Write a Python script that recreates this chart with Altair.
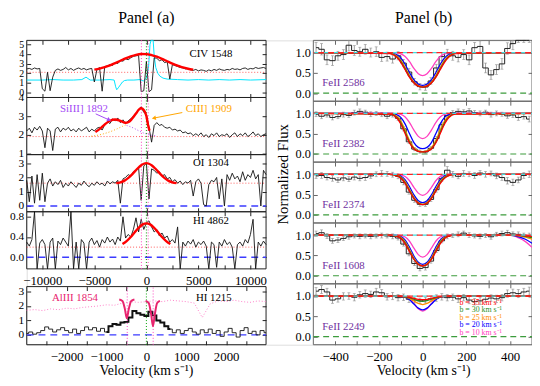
import altair as alt
import pandas as pd

FONT = "Liberation Serif"

# ======================= Panel (a) : broad emission lines =======================
VEL_A = list(range(-11500, 11501, 250))   # 93 velocity samples (km/s)

CIV_FLUX = [
    2.45, 2.50, 2.40, 2.55,   # -11500
    2.45, 2.50, 0.40, 0.15,   # -10500
    2.10, 0.20, 1.60, 2.30,   # -9500
    2.45, 2.30, 2.40, 2.60,   # -8500
    2.35, 2.50, 2.30, 2.45,   # -7500
    2.55, 2.40, 2.50, 2.35,   # -6500
    2.45, 2.50, 1.10, 2.40,   # -5500
    2.60, 0.15, 2.70, 2.75,   # -4500
    2.90, 2.80, 3.10, 3.00,   # -3500
    3.30, 3.25, 3.50, 3.40,   # -2500
    3.60, 3.75, 3.80, 3.85,   # -1500
    0.10, 0.20, 3.20, 0.10,   # -500
    0.30, 3.60, 3.55, 3.30,   # 500
    3.40, 3.10, 3.20, 1.40,   # 1500
    2.90, 2.80, 2.70, 2.60,   # 2500
    2.55, 2.45, 2.50, 2.35,   # 3500
    2.30, 2.40, 2.25, 2.35,   # 4500
    2.30, 2.20, 2.35, 2.25,   # 5500
    2.40, 2.30, 2.45, 2.35,   # 6500
    2.30, 2.40, 2.35, 2.50,   # 7500
    2.40, 2.45, 2.35, 2.50,   # 8500
    2.55, 2.40, 2.50, 2.45,   # 9500
    2.60, 2.50, 2.55, 2.60,   # 10500
    2.50,                     # 11500
]
CIV_CYAN_V = [-11500, -10000, -9000, -8000, -7000, -6200, -5800, -5400, -4500, -3500,
              -3100, -2950, -2850, -2700, -2500, -2300, -2100, -1800, -1200, -600,
              -300, 0, 200, 350, 450, 550, 650, 750, 900, 1100,
              1300, 1600, 2000, 3000, 4000, 5000, 6000, 7000, 8000, 9000,
              10000, 11500]
CIV_CYAN_F = [1.30, 1.30, 1.35, 1.30, 1.30, 1.35, 1.60, 1.30, 1.30, 1.35,
              1.30, 0.60, 0.30, 0.50, 0.80, 1.10, 1.25, 1.30, 1.30, 1.35,
              1.20, 1.50, 2.50, 5.00, 6.50, 6.50, 5.50, 3.80, 2.60, 2.00,
              1.70, 1.50, 1.40, 1.35, 1.30, 1.35, 1.30, 1.35, 1.30, 1.35,
              1.30, 1.35]
CIV_FIT_V = [-5000, -4500, -4000, -3500, -3000, -2500, -2000, -1500, -1000, -500,
             0, 500, 1000, 1500, 2000, 2500, 3000, 3500, 4000, 4500]
CIV_FIT_F = [2.38, 2.49, 2.64, 2.82, 3.05, 3.29, 3.54, 3.75, 3.91, 3.99,
             3.98, 3.88, 3.71, 3.49, 3.24, 3.00, 2.79, 2.60, 2.47, 2.37]
CIV_CONT = 2.1

SI_FLUX = [
    2.20, 2.35, 2.10, 2.40,   # -11500
    2.25, 2.45, 2.20, 1.30,   # -10500
    2.35, 2.20, 1.15, 2.30,   # -9500
    2.40, 2.15, 2.35, 2.25,   # -8500
    2.40, 2.20, 2.30, 2.15,   # -7500
    2.35, 2.20, 2.30, 2.40,   # -6500
    2.15, 2.30, 2.20, 2.35,   # -5500
    2.40, 2.25, 2.55, 2.70,   # -4500
    2.60, 2.85, 2.75, 2.90,   # -3500
    2.65, 2.80, 2.60, 2.75,   # -2500
    2.85, 3.00, 3.10, 3.35,   # -1500
    3.50, 3.20, 3.10, 2.40,   # -500
    1.60, 2.50, 2.65, 2.50,   # 500
    2.55, 2.40, 2.35, 2.40,   # 1500
    2.25, 2.30, 2.20, 2.25,   # 2500
    2.10, 2.15, 2.05, 2.10,   # 3500
    1.95, 2.05, 1.95, 2.10,   # 4500
    1.90, 2.00, 1.85, 2.05,   # 5500
    1.95, 2.10, 1.90, 2.00,   # 6500
    1.95, 2.05, 1.85, 2.00,   # 7500
    2.10, 1.90, 2.05, 1.95,   # 8500
    2.10, 1.90, 2.00, 2.15,   # 9500
    1.95, 2.05, 1.90, 2.00,   # 10500
    2.05,                     # 11500
]
SI_FIT_V = [-4900, -4500, -4000, -3500, -3000, -2500, -2000, -1700, -1400, -1000,
            -700, -500, -250, 0, 150, 300]
SI_FIT_F = [2.15, 2.30, 2.55, 2.75, 2.82, 2.74, 2.64, 2.68, 2.84, 3.14,
            3.36, 3.42, 3.33, 3.00, 2.55, 2.22]
ORANGE_DOT_V = [-5300, -4800, -4300, -3800, -3300, -2800, -2300, -1900]
ORANGE_DOT_F = [1.92, 1.96, 2.02, 2.10, 2.20, 2.32, 2.45, 2.55]
PURPLE_DOT_V = [-1900, -1500, -1100, -700, -300, 100, 500, 900]
PURPLE_DOT_F = [2.50, 2.42, 2.32, 2.20, 2.10, 2.02, 1.97, 1.94]
SI_CONT = 1.9

OI_FLUX = [
    1.80, 0.30, 2.10, 0.20,   # -11500
    2.20, 0.40, 2.30, 0.30,   # -10500
    1.60, 1.90, 1.40, 1.70,   # -9500
    1.50, 1.80, 1.30, 1.60,   # -8500
    1.40, 1.70, 1.50, 1.30,   # -7500
    1.60, 1.45, 1.75, 1.50,   # -6500
    1.35, 1.60, 1.45, 1.70,   # -5500
    1.50, 1.60, 1.40, 1.75,   # -4500
    1.55, 1.70, 1.60, 1.80,   # -3500
    0.20, 1.90, 2.00, 2.20,   # -2500
    2.10, 2.40, 2.50, 2.70,   # -1500
    0.40, 2.80, 3.00, 0.50,   # -500
    2.60, 2.50, 2.30, 2.40,   # 500
    2.10, 2.20, 1.90, 2.00,   # 1500
    1.70, 1.85, 1.60, 1.75,   # 2500
    1.50, 1.70, 1.60, 1.80,   # 3500
    0.70, 1.70, 1.90, 1.60,   # 4500
    0.10, 0.00, 1.50, 1.80,   # 5500
    1.70, 2.00, 0.50, 1.90,   # 6500
    0.00, 2.20, 1.80, 2.30,   # 7500
    1.90, 2.10, 1.70, 2.40,   # 8500
    1.80, 2.20, 2.00, 2.50,   # 9500
    1.90, 2.20, 0.00, 2.50,   # 10500
    2.20,                     # 11500
]
OI_FIT_V = [-2900, -2500, -2100, -1700, -1300, -900, -500, -250, 0,
            250, 500, 900, 1300, 1700, 2100, 2500, 2900]
OI_FIT_F = [1.60, 1.66, 1.78, 1.99, 2.27, 2.59, 2.86, 2.96, 3.00,
            2.96, 2.86, 2.59, 2.27, 1.99, 1.78, 1.66, 1.60]
OI_CONT = 1.6

HI_FLUX = [
    0.30, 0.22, 0.35, 0.95,   # -11500
    -0.30, 0.28, 0.35, 0.25,  # -10500
    -0.30, 0.30, 0.38, -0.30, # -9500
    0.32, 0.25, 0.38, 0.30,   # -8500
    0.22, 0.90, -0.30, 0.30,  # -7500
    -0.25, 0.35, 0.28, -0.30, # -6500
    0.30, 0.38, 0.25, 0.33,   # -5500
    0.20, 0.35, 0.28, 0.40,   # -4500
    0.30, 0.36, 0.25, 0.40,   # -3500
    0.32, 0.80, 0.38, 0.45,   # -2500
    0.40, 0.55, 0.78, 0.50,   # -1500
    0.75, 0.55, 0.68, 0.72,   # -500
    0.60, 0.50, 0.55, 0.42,   # 500
    0.48, 0.38, 0.42, 0.30,   # 1500
    0.35, 0.28, 0.60, -0.30,  # 2500
    0.30, 0.22, 0.32, 0.26,   # 3500
    0.35, 0.20, 0.30, 0.25,   # 4500
    0.32, 0.22, -0.30, 0.30,  # 5500
    0.25, -0.20, 0.30, 0.22,  # 6500
    0.35, 0.25, 0.30, 0.20,   # 7500
    -0.30, 0.25, 0.30, 0.22,  # 8500
    0.35, 0.28, 0.45, 0.75,   # 9500
    -0.30, 0.30, 0.22, 0.32,  # 10500
    0.25,                     # 11500
]
HI_FIT_V = [-2300, -1900, -1500, -1100, -700, -350, 0, 350, 700, 1100, 1500, 1900, 2300]
HI_FIT_F = [0.26, 0.32, 0.40, 0.50, 0.59, 0.65, 0.67, 0.65, 0.59, 0.50, 0.40, 0.32, 0.26]
HI_CONT = 0.2

# bottom panel: HI 1215 with AlIII 1854 overlay
VEL_LYA = list(range(-3000, 3001, 100))   # 61 samples
LYA_FLUX = [
    0.10, 0.20, 0.05, 0.15, 0.30, 0.55, 0.40, 0.20, 0.35, 0.50,    # -3000
    0.30, 0.15, 0.40, 0.10, 0.30, 0.55, 0.35, 0.50, 0.25, 0.45,    # -2000
    0.20, 0.60, 0.75, 0.70, 0.85, 0.90, 1.20, 1.65, 1.50, 1.40,    # -1000
    1.30, 1.60, 1.35, 1.00, 0.85, 0.60, 0.40, 0.15, 0.35, 0.10,    # 0
    0.30, 0.45, 0.20, 0.05, 0.35, 0.15, 0.40, 0.10, 0.30, -0.10,   # 1000
    0.20, 0.45, 0.15, -0.15, 0.30, 0.50, 0.10, 0.25, 0.00, 0.30,   # 2000
    0.15,                                                          # 3000
]
VEL_AL = list(range(-3000, 3001, 200))    # 31 samples
AL_FLUX = [1.70, 1.75, 1.68, 1.80, 1.74, 1.85, 1.80, 1.90, 1.95, 2.00,
           2.08, 2.05, 2.20, 2.30, 2.25, 2.30, 2.35, 2.30, 2.40, 2.35,
           2.30, 2.20, 1.20, 2.15, 2.35, 2.30, 2.40, 2.30, 2.25, 2.35, 2.30]
AL_V1_V = [-680, -600, -540, -490, -440, -380, -300]
AL_V1_F = [2.45, 2.35, 1.80, 1.15, 1.80, 2.35, 2.45]
AL_V2_V = [-20, 60, 120, 165, 210, 270, 340]
AL_V2_F = [2.35, 2.20, 1.40, 0.60, 1.40, 2.20, 2.35]

VLINES_MAGENTA = [-480, 170]
VLINE_GREEN = 0

# ======================= Panel (b) : FeII absorption =======================
VEL_B = [-487.5 + 25 * i for i in range(40)]
B_NAMES = ["FeII 2586", "FeII 2382", "FeII 2374", "FeII 1608", "FeII 2249"]
B_FLUX = [
    [1.12, 1.08, 0.82, 0.80, 0.92, 0.95, 1.18, 1.05, 1.02, 1.08,
     1.00, 1.02, 0.88, 0.90, 0.84, 0.92, 0.74, 0.52, 0.28, 0.16,
     0.15, 0.30, 0.62, 0.90, 0.98, 0.92, 0.88, 0.95, 0.82, 1.12,
     1.15, 0.62, 0.45, 0.58, 0.72, 1.10, 1.22, 1.40, 1.40, 1.40],
    [0.98, 0.93, 0.96, 0.90, 0.92, 0.97, 0.95, 1.02, 1.05, 1.03,
     0.98, 1.00, 0.97, 0.93, 0.96, 0.88, 0.62, 0.30, 0.12, 0.06,
     0.05, 0.14, 0.38, 0.72, 0.95, 1.02, 1.05, 1.04, 1.06, 1.02,
     1.00, 1.03, 0.97, 1.00, 0.98, 0.94, 0.96, 0.90, 0.92, 0.86],
    [0.96, 0.97, 0.92, 0.90, 0.86, 0.91, 0.88, 0.93, 0.90, 0.92,
     0.96, 1.00, 1.02, 1.01, 0.99, 0.95, 0.80, 0.56, 0.36, 0.26,
     0.26, 0.38, 0.62, 0.90, 1.10, 1.00, 0.95, 1.02, 1.00, 0.97,
     1.03, 1.00, 1.02, 0.96, 0.92, 0.84, 0.80, 0.86, 0.97, 1.00],
    [1.04, 1.06, 0.98, 0.86, 0.88, 0.92, 0.96, 0.98, 0.97, 0.98,
     0.97, 0.98, 0.99, 0.98, 0.97, 0.93, 0.78, 0.54, 0.30, 0.18,
     0.20, 0.36, 0.62, 0.86, 0.97, 0.99, 1.02, 1.05, 1.00, 0.98,
     0.97, 0.99, 0.96, 1.02, 1.04, 1.06, 1.03, 1.02, 1.00, 0.99],
    [1.12, 1.16, 1.10, 0.90, 0.93, 0.99, 1.00, 0.97, 1.03, 1.06,
     1.04, 1.10, 1.08, 0.98, 1.00, 0.96, 0.97, 0.92, 0.90, 0.88,
     0.90, 0.93, 0.95, 0.98, 0.96, 0.97, 0.93, 0.96, 0.90, 0.86,
     0.88, 0.92, 0.95, 0.93, 0.96, 1.06, 1.08, 1.06, 1.10, 1.12],
]
B_ERR = [
    [0.13, 0.14, 0.12, 0.12, 0.11, 0.12, 0.14, 0.12, 0.11, 0.12,
     0.11, 0.12, 0.10, 0.11, 0.10, 0.10, 0.09, 0.09, 0.08, 0.08,
     0.08, 0.08, 0.09, 0.10, 0.10, 0.11, 0.11, 0.12, 0.12, 0.13,
     0.14, 0.12, 0.11, 0.12, 0.13, 0.14, 0.15, 0.15, 0.15, 0.15],
    [0.06, 0.06, 0.05, 0.06, 0.05, 0.06, 0.05, 0.06, 0.06, 0.05,
     0.06, 0.05, 0.05, 0.06, 0.05, 0.05, 0.05, 0.04, 0.04, 0.04,
     0.04, 0.04, 0.05, 0.05, 0.06, 0.05, 0.06, 0.05, 0.06, 0.05,
     0.06, 0.05, 0.06, 0.06, 0.05, 0.06, 0.06, 0.07, 0.06, 0.07],
    [0.06, 0.07, 0.06, 0.07, 0.06, 0.07, 0.06, 0.07, 0.06, 0.07,
     0.06, 0.06, 0.07, 0.06, 0.06, 0.06, 0.06, 0.05, 0.05, 0.05,
     0.05, 0.05, 0.06, 0.07, 0.09, 0.07, 0.06, 0.07, 0.06, 0.07,
     0.06, 0.07, 0.06, 0.07, 0.07, 0.08, 0.08, 0.07, 0.07, 0.08],
    [0.06, 0.07, 0.06, 0.06, 0.06, 0.05, 0.06, 0.05, 0.06, 0.05,
     0.06, 0.05, 0.06, 0.05, 0.06, 0.05, 0.05, 0.05, 0.05, 0.06,
     0.06, 0.05, 0.05, 0.05, 0.06, 0.05, 0.06, 0.05, 0.06, 0.05,
     0.06, 0.05, 0.06, 0.05, 0.06, 0.06, 0.05, 0.06, 0.05, 0.06],
    [0.09, 0.10, 0.09, 0.08, 0.08, 0.09, 0.08, 0.09, 0.08, 0.09,
     0.08, 0.09, 0.08, 0.08, 0.09, 0.08, 0.08, 0.08, 0.07, 0.07,
     0.07, 0.07, 0.08, 0.08, 0.08, 0.08, 0.09, 0.08, 0.09, 0.08,
     0.09, 0.08, 0.08, 0.09, 0.08, 0.09, 0.09, 0.10, 0.09, 0.10],
]
VEL_M = [-500, -150, -120, -100, -80, -60, -40, -20, 0, 20, 40, 60, 80, 100, 120, 150, 500]
VEL_M4 = [-500, -150, -120, -100, -80, -60, -40, -20, 0, 20, 40, 60, 80, 100, 120, 150,
          400, 440, 470, 500]
B_LABELS = ["b = 35 km s\u207b\u00b9", "b = 30 km s\u207b\u00b9", "b = 25 km s\u207b\u00b9",
            "b = 20 km s\u207b\u00b9", "b = 10 km s\u207b\u00b9"]
B_COLORS = ["#ff0000", "#1f8f1f", "#ff8c00", "#0000ff", "#ff40c0"]
# model curves per panel, order: b=35, 30, 25, 20, 10
MODELS = [
    [[1.0, 0.975, 0.889, 0.759, 0.575, 0.387, 0.248, 0.172, 0.150, 0.172, 0.248, 0.387, 0.575, 0.759, 0.889, 0.975, 1.0],
     [1.0, 0.981, 0.905, 0.781, 0.598, 0.402, 0.254, 0.174, 0.150, 0.174, 0.254, 0.402, 0.598, 0.781, 0.905, 0.981, 1.0],
     [1.0, 0.986, 0.922, 0.811, 0.632, 0.432, 0.274, 0.187, 0.160, 0.187, 0.274, 0.432, 0.632, 0.811, 0.922, 0.986, 1.0],
     [1.0, 0.993, 0.951, 0.866, 0.705, 0.502, 0.325, 0.222, 0.190, 0.222, 0.325, 0.502, 0.705, 0.866, 0.951, 0.993, 1.0],
     [1.0, 1.000, 0.993, 0.969, 0.903, 0.773, 0.608, 0.478, 0.430, 0.478, 0.608, 0.773, 0.903, 0.969, 0.993, 1.000, 1.0]],
    [[1.0, 0.980, 0.900, 0.740, 0.500, 0.270, 0.125, 0.065, 0.050, 0.065, 0.125, 0.270, 0.500, 0.740, 0.900, 0.980, 1.0],
     [1.0, 0.988, 0.914, 0.771, 0.533, 0.288, 0.131, 0.066, 0.050, 0.066, 0.131, 0.288, 0.533, 0.771, 0.914, 0.988, 1.0],
     [1.0, 0.992, 0.936, 0.812, 0.588, 0.333, 0.156, 0.080, 0.060, 0.080, 0.156, 0.333, 0.588, 0.812, 0.936, 0.992, 1.0],
     [1.0, 1.000, 0.972, 0.901, 0.737, 0.497, 0.282, 0.163, 0.130, 0.163, 0.282, 0.497, 0.737, 0.901, 0.972, 1.000, 1.0],
     [1.0, 1.000, 0.995, 0.976, 0.913, 0.774, 0.586, 0.434, 0.380, 0.434, 0.586, 0.774, 0.913, 0.976, 0.995, 1.000, 1.0]],
    [[1.0, 0.996, 0.968, 0.902, 0.769, 0.581, 0.400, 0.287, 0.250, 0.287, 0.400, 0.581, 0.769, 0.902, 0.968, 0.996, 1.0],
     [1.0, 0.998, 0.975, 0.918, 0.791, 0.600, 0.411, 0.289, 0.250, 0.289, 0.411, 0.600, 0.791, 0.918, 0.975, 0.998, 1.0],
     [1.0, 1.000, 0.981, 0.933, 0.818, 0.630, 0.433, 0.302, 0.260, 0.302, 0.433, 0.630, 0.818, 0.933, 0.981, 1.000, 1.0],
     [1.0, 1.000, 0.990, 0.957, 0.864, 0.693, 0.492, 0.348, 0.300, 0.348, 0.492, 0.693, 0.864, 0.957, 0.990, 1.000, 1.0],
     [1.0, 1.000, 0.997, 0.987, 0.945, 0.840, 0.679, 0.535, 0.480, 0.535, 0.679, 0.840, 0.945, 0.987, 0.997, 1.000, 1.0]],
    [[1.0, 1.0, 0.974, 0.916, 0.786, 0.592, 0.400, 0.279, 0.240, 0.279, 0.400, 0.592, 0.786, 0.916, 0.974, 1.0, 1.0, 0.995, 0.985, 0.97],
     [1.0, 1.0, 0.980, 0.930, 0.808, 0.613, 0.412, 0.282, 0.240, 0.282, 0.412, 0.613, 0.808, 0.930, 0.980, 1.0, 1.0, 0.990, 0.970, 0.94],
     [1.0, 1.0, 0.986, 0.945, 0.835, 0.644, 0.435, 0.295, 0.250, 0.295, 0.435, 0.644, 0.835, 0.945, 0.986, 1.0, 1.0, 0.980, 0.950, 0.90],
     [1.0, 1.0, 0.992, 0.965, 0.878, 0.702, 0.487, 0.332, 0.280, 0.332, 0.487, 0.702, 0.878, 0.965, 0.992, 1.0, 1.0, 0.960, 0.900, 0.80],
     [1.0, 1.0, 1.000, 0.990, 0.953, 0.850, 0.678, 0.520, 0.460, 0.520, 0.678, 0.850, 0.953, 0.990, 1.000, 1.0, 1.0, 0.930, 0.840, 0.70]],
    [[1.0, 1.0, 0.998, 0.994, 0.985, 0.967, 0.942, 0.919, 0.910, 0.919, 0.942, 0.967, 0.985, 0.994, 0.998, 1.0, 1.0],
     [1.0, 1.0, 1.000, 0.994, 0.982, 0.957, 0.921, 0.885, 0.870, 0.885, 0.921, 0.957, 0.982, 0.994, 1.000, 1.0, 1.0],
     [1.0, 1.0, 1.000, 0.993, 0.977, 0.939, 0.879, 0.817, 0.790, 0.817, 0.879, 0.939, 0.977, 0.993, 1.000, 1.0, 1.0],
     [1.0, 1.0, 1.000, 0.993, 0.969, 0.906, 0.803, 0.702, 0.660, 0.702, 0.803, 0.906, 0.969, 0.993, 1.000, 1.0, 1.0],
     [1.0, 1.0, 1.000, 0.997, 0.981, 0.925, 0.811, 0.684, 0.630, 0.684, 0.811, 0.925, 0.981, 0.997, 1.000, 1.0, 1.0]],
]

# tick positions
TICKS_A_X = [-10000, -7500, -5000, -2500, 0, 2500, 5000, 7500, 10000]
TICKS_LYA_X = [-2500, -2000, -1500, -1000, -500, 0, 500, 1000, 1500, 2000, 2500]
TICKS_B_X = [-400, -300, -200, -100, 0, 100, 200, 300, 400]

# ======================= layout helpers =======================
W, H = 513, 309
XA = [0, 243]
XB = [291, 513]
ONE = pd.DataFrame({"d": [0]})


def yax(values, fmt, offset, size=12):
    return alt.Axis(orient="left", offset=offset, values=values, format=fmt, ticks=False,
                    domain=False, grid=False, labelFont=FONT, labelFontSize=size,
                    labelColor="black", labelPadding=3, labelFlush=False, labelOverlap=False,
                    title=None)


def xax(values, offset):
    return alt.Axis(orient="bottom", offset=offset, values=values, format="d", ticks=False,
                    domain=False, grid=False, labelFont=FONT, labelFontSize=13,
                    labelColor="black", labelPadding=6, labelFlush=False, labelOverlap=False,
                    title=None)


def tax(orient, offset, values, color):
    return alt.Axis(orient=orient, offset=offset, values=values, labels=False, domain=False,
                    grid=False, ticks=True, tickSize=4, tickWidth=1, tickColor=color, title=None)


def panel(xd, xr, yd, yr, xaxis=None, yaxis=None):
    return dict(xd=xd, yd=yd, xr=xr, yr=yr, xaxis=xaxis, yaxis=yaxis,
                xs=alt.Scale(domain=xd, range=xr, nice=False, zero=False, clamp=True),
                ys=alt.Scale(domain=yd, range=yr, nice=False, zero=False, clamp=True))


def X(p, f):
    return alt.X(f, type="quantitative", scale=p["xs"], title=None)


def Y(p, f):
    return alt.Y(f, type="quantitative", scale=p["ys"], title=None)


def frame(p, color):
    df = pd.DataFrame({"x0": [p["xd"][0]], "x1": [p["xd"][1]], "y0": [p["yd"][0]], "y1": [p["yd"][1]]})
    return alt.Chart(df).mark_rect(fillOpacity=0, stroke=color, strokeWidth=1).encode(
        x=alt.X("x0", type="quantitative", scale=p["xs"], axis=p["xaxis"], title=None),
        x2="x1",
        y=alt.Y("y0", type="quantitative", scale=p["ys"], axis=p["yaxis"], title=None),
        y2="y1")


def inward_ticks(p, xvals, yvals, color):
    """Two invisible layers whose axes put ticks inside the four edges of a panel."""
    xl, xr = p["xr"]
    yb, yt = p["yr"]
    df = pd.DataFrame({"x0": [p["xd"][0]], "y0": [p["yd"][0]]})
    a = alt.Chart(df).mark_point(opacity=0).encode(
        x=alt.X("x0", type="quantitative", scale=p["xs"], axis=tax("top", -yb, xvals, color), title=None),
        y=alt.Y("y0", type="quantitative", scale=p["ys"], axis=tax("right", xl - W, yvals, color), title=None))
    b = alt.Chart(df).mark_point(opacity=0).encode(
        x=alt.X("x0", type="quantitative", scale=p["xs"], axis=tax("bottom", yt - H, xvals, color), title=None),
        y=alt.Y("y0", type="quantitative", scale=p["ys"], axis=tax("left", -xr, yvals, color), title=None))
    return [a, b]


def line(p, v, f, color, width=1.0, dash=None, interp="linear"):
    kw = dict(color=color, strokeWidth=width, interpolate=interp)
    if dash:
        kw["strokeDash"] = dash
    return alt.Chart(pd.DataFrame({"v": v, "f": f})).mark_line(**kw).encode(x=X(p, "v"), y=Y(p, "f"))


def hline(p, yv, color, width=1.0, dash=None, dash_offset=None):
    kw = dict(color=color, strokeWidth=width)
    if dash:
        kw["strokeDash"] = dash
    if dash_offset is not None:
        kw["strokeDashOffset"] = dash_offset
    df = pd.DataFrame({"x0": [p["xd"][0]], "x1": [p["xd"][1]], "y": [yv]})
    return alt.Chart(df).mark_rule(**kw).encode(x=X(p, "x0"), x2="x1", y=Y(p, "y"))


def vline(p, xv, color, width=1.0, dash=(1, 2)):
    df = pd.DataFrame({"x": [xv], "y0": [p["yd"][0]], "y1": [p["yd"][1]]})
    return alt.Chart(df).mark_rule(color=color, strokeWidth=width, strokeDash=list(dash)).encode(
        x=X(p, "x"), y=Y(p, "y0"), y2="y1")


def label(p, v, yv, text, color, size=11, align="center"):
    df = pd.DataFrame({"v": [v], "y": [yv], "t": [text]})
    return alt.Chart(df).mark_text(font=FONT, fontSize=size, color=color, align=align,
                                   baseline="middle").encode(x=X(p, "v"), y=Y(p, "y"), text="t")


def arrow(p, v, f, color, angle):
    shaft = line(p, v, f, color, width=1)
    head = alt.Chart(pd.DataFrame({"v": [v[-1]], "f": [f[-1]]})).mark_point(
        shape="triangle", angle=angle, filled=True, size=22, color=color, opacity=1).encode(
        x=X(p, "v"), y=Y(p, "f"))
    return [shaft, head]


def markers(p):
    return [vline(p, v, "#ff40c0") for v in VLINES_MAGENTA] + [vline(p, VLINE_GREEN, "#00a000")]


DOT = [1, 2]
BLUE_DASH = [7, 5]
FRAME_A = "#222222"
FRAME_B = "#666666"

# ======================= build panel (a) =======================
XD_A = [-11500, 11500]
pCIV = panel(XD_A, XA, [-0.5, 5.4], [58, 0], yaxis=yax([0, 1, 2, 3, 4, 5], "d", 0, 10))
pSI = panel(XD_A, XA, [0.93, 4.0], [116, 58], yaxis=yax([1, 2, 3, 4], "d", 0, 11.5))
pOI = panel(XD_A, XA, [-0.4, 3.6], [174, 116], yaxis=yax([0, 1, 2, 3], "d", 0, 11.5))
pHI = panel(XD_A, XA, [-0.23, 0.9], [232, 174],
            xaxis=xax([-10000, -5000, 0, 5000, 10000], 232 - H),
            yaxis=yax([0.0, 0.4, 0.8], ".1f", 0, 11.5))
pLY = panel([-3000, 3000], XA, [-0.68, 3.34], [309, 250],
            xaxis=xax([-2000, -1000, 0, 1000, 2000], 0), yaxis=yax([0, 1, 2, 3], "d", 0, 11.5))

layers = []

civ = [frame(pCIV, FRAME_A),
       hline(pCIV, CIV_CONT, "#ff3030", 0.8, DOT),
       line(pCIV, CIV_CYAN_V, CIV_CYAN_F, "#00e5ff", 1.0),
       line(pCIV, VEL_A, CIV_FLUX, "#111111", 0.9)]
civ += markers(pCIV)
civ += [line(pCIV, CIV_FIT_V, CIV_FIT_F, "#ff0000", 2.4, interp="monotone"),
        label(pCIV, 6200, 3.98, "CIV 1548", "black")]
layers.append(alt.layer(*civ))
layers += inward_ticks(pCIV, TICKS_A_X, [0, 1, 2, 3, 4, 5], FRAME_A)

si = [frame(pSI, FRAME_A),
      hline(pSI, SI_CONT, "#ff3030", 0.8, DOT),
      line(pSI, ORANGE_DOT_V, ORANGE_DOT_F, "#ffa500", 1.0, DOT, "monotone"),
      line(pSI, PURPLE_DOT_V, PURPLE_DOT_F, "#b050f0", 1.0, DOT, "monotone"),
      line(pSI, VEL_A, SI_FLUX, "#111111", 0.9)]
si += markers(pSI)
si += [line(pSI, SI_FIT_V, SI_FIT_F, "#ff0000", 2.4, interp="monotone"),
       label(pSI, -6000, 3.38, "SiIII] 1892", "#a347f5"),
       label(pSI, 6000, 3.38, "CIII] 1909", "#ffa500")]
si += arrow(pSI, [-4870, -3640], [3.12, 2.81], "#a347f5", 115)
si += arrow(pSI, [3450, 780], [3.19, 2.90], "#ffa500", 259)
layers.append(alt.layer(*si))
layers += inward_ticks(pSI, TICKS_A_X, [1, 2, 3], FRAME_A)

oi = [frame(pOI, FRAME_A),
      hline(pOI, OI_CONT, "#ff3030", 0.8, DOT),
      hline(pOI, 0, "#3b3bff", 1.5, BLUE_DASH),
      line(pOI, VEL_A, OI_FLUX, "#111111", 0.9)]
oi += markers(pOI)
oi += [line(pOI, OI_FIT_V, OI_FIT_F, "#ff0000", 2.4, interp="monotone"),
       label(pOI, 6200, 2.98, "OI 1304", "black")]
layers.append(alt.layer(*oi))
layers += inward_ticks(pOI, TICKS_A_X, [0, 1, 2, 3], FRAME_A)

hi = [frame(pHI, FRAME_A),
      hline(pHI, HI_CONT, "#ff3030", 0.8, DOT),
      hline(pHI, 0, "#3b3bff", 1.5, BLUE_DASH),
      line(pHI, VEL_A, HI_FLUX, "#111111", 0.9)]
hi += markers(pHI)
hi += [line(pHI, HI_FIT_V, HI_FIT_F, "#ff0000", 2.4, interp="monotone"),
       label(pHI, 6200, 0.71, "HI 4862", "black")]
layers.append(alt.layer(*hi))
layers += inward_ticks(pHI, TICKS_A_X, [0.0, 0.4, 0.8], FRAME_A)

lya_df = pd.DataFrame({"v": VEL_LYA, "f": LYA_FLUX})
ly = [frame(pLY, FRAME_A),
      hline(pLY, 0, "#3b3bff", 1.5, BLUE_DASH),
      line(pLY, VEL_AL, AL_FLUX, "#ff80c8", 1.0, DOT),
      alt.Chart(lya_df).mark_line(color="#111111", strokeWidth=0.9, interpolate="step").encode(
          x=X(pLY, "v"), y=Y(pLY, "f")),
      alt.Chart(lya_df).transform_filter("datum.v >= -1000 && datum.v <= 600").mark_line(
          color="#111111", strokeWidth=2, interpolate="step").encode(x=X(pLY, "v"), y=Y(pLY, "f"))]
ly += markers(pLY)
ly += [line(pLY, AL_V1_V, AL_V1_F, "#e8246e", 2.0, interp="monotone"),
       line(pLY, AL_V2_V, AL_V2_F, "#e8246e", 2.0, interp="monotone"),
       label(pLY, -1790, 2.52, "AlIII 1854", "#e8246e"),
       label(pLY, 1690, 2.52, "HI 1215", "black")]
layers.append(alt.layer(*ly))
layers += inward_ticks(pLY, TICKS_LYA_X, [0, 1, 2, 3], FRAME_A)

# ======================= build panel (b) =======================
PH = 61.8
for k in range(5):
    top = PH * k
    p = panel([-500, 500], XB, [-0.2, 1.3], [top + PH, top],
              xaxis=xax([-400, -200, 0, 200, 400], 0) if k == 4 else None,
              yaxis=yax([0.0, 0.5, 1.0], ".1f", -291, 12.5))
    flux, err = B_FLUX[k], B_ERR[k]
    dfb = pd.DataFrame({"v": VEL_B, "f": flux,
                        "lo": [a - e for a, e in zip(flux, err)],
                        "hi": [a + e for a, e in zip(flux, err)]})
    vm = VEL_M4 if k == 3 else VEL_M
    ch = [frame(p, FRAME_B),
          hline(p, 0.0, "#3c9c3c", 1.2, [6, 4]),
          alt.Chart(dfb).mark_rule(color="#8a8a8a", strokeWidth=0.8).encode(
              x=X(p, "v"), y=Y(p, "lo"), y2="hi"),
          alt.Chart(dfb).mark_tick(orient="horizontal", size=3, thickness=0.8, color="#8a8a8a").encode(
              x=X(p, "v"), y=Y(p, "lo")),
          alt.Chart(dfb).mark_tick(orient="horizontal", size=3, thickness=0.8, color="#8a8a8a").encode(
              x=X(p, "v"), y=Y(p, "hi")),
          line(p, VEL_B, flux, "#222222", 1.0, interp="step")]
    for c in [4, 3, 2, 1, 0]:
        ch.append(line(p, vm, MODELS[k][c], B_COLORS[c], 1.3, interp="monotone"))
    ch += [hline(p, 1.0, "#40dede", 1.3, [6, 4]),
           hline(p, 1.0, "#ff2020", 1.3, [6, 4], 5),
           label(p, -459, 0.24, B_NAMES[k], "#7030a0", 11, "left")]
    if k == 4:
        for c, yv in zip(range(5), [0.83, 0.645, 0.46, 0.275, 0.09]):
            ch.append(label(p, 168, yv, B_LABELS[c], B_COLORS[c], 8, "left"))
    layers.append(alt.layer(*ch))
    layers += inward_ticks(p, TICKS_B_X, [0.0, 0.5, 1.0], FRAME_B)

# ======================= titles =======================
def title(text, x, y, size, angle=0):
    kw = dict(text=text, font=FONT, fontSize=size, color="black", align="center", baseline="middle")
    if angle:
        kw["angle"] = angle
    return alt.Chart(ONE).mark_text(**kw).encode(x=alt.value(x), y=alt.value(y))

layers += [title("Panel (a)", 121.5, -23, 16),
           title("Panel (b)", 403, -23, 16),
           title("Velocity (km s\u207b\u00b9)", 121.5, 336, 14),
           title("Velocity (km s\u207b\u00b9)", 403, 336, 14),
           title("Normalized Flux", 260, 136, 15, 270)]

chart = alt.layer(*layers).resolve_scale(x="independent", y="independent").properties(
    width=W, height=H,
    autosize=alt.AutoSizeParams(type="none"),
    padding={"left": 19, "top": 30, "right": 0, "bottom": 35},
).configure_view(stroke=None).configure(font=FONT)

chart.save("out.html", embed_options={"renderer": "svg", "actions": False})
